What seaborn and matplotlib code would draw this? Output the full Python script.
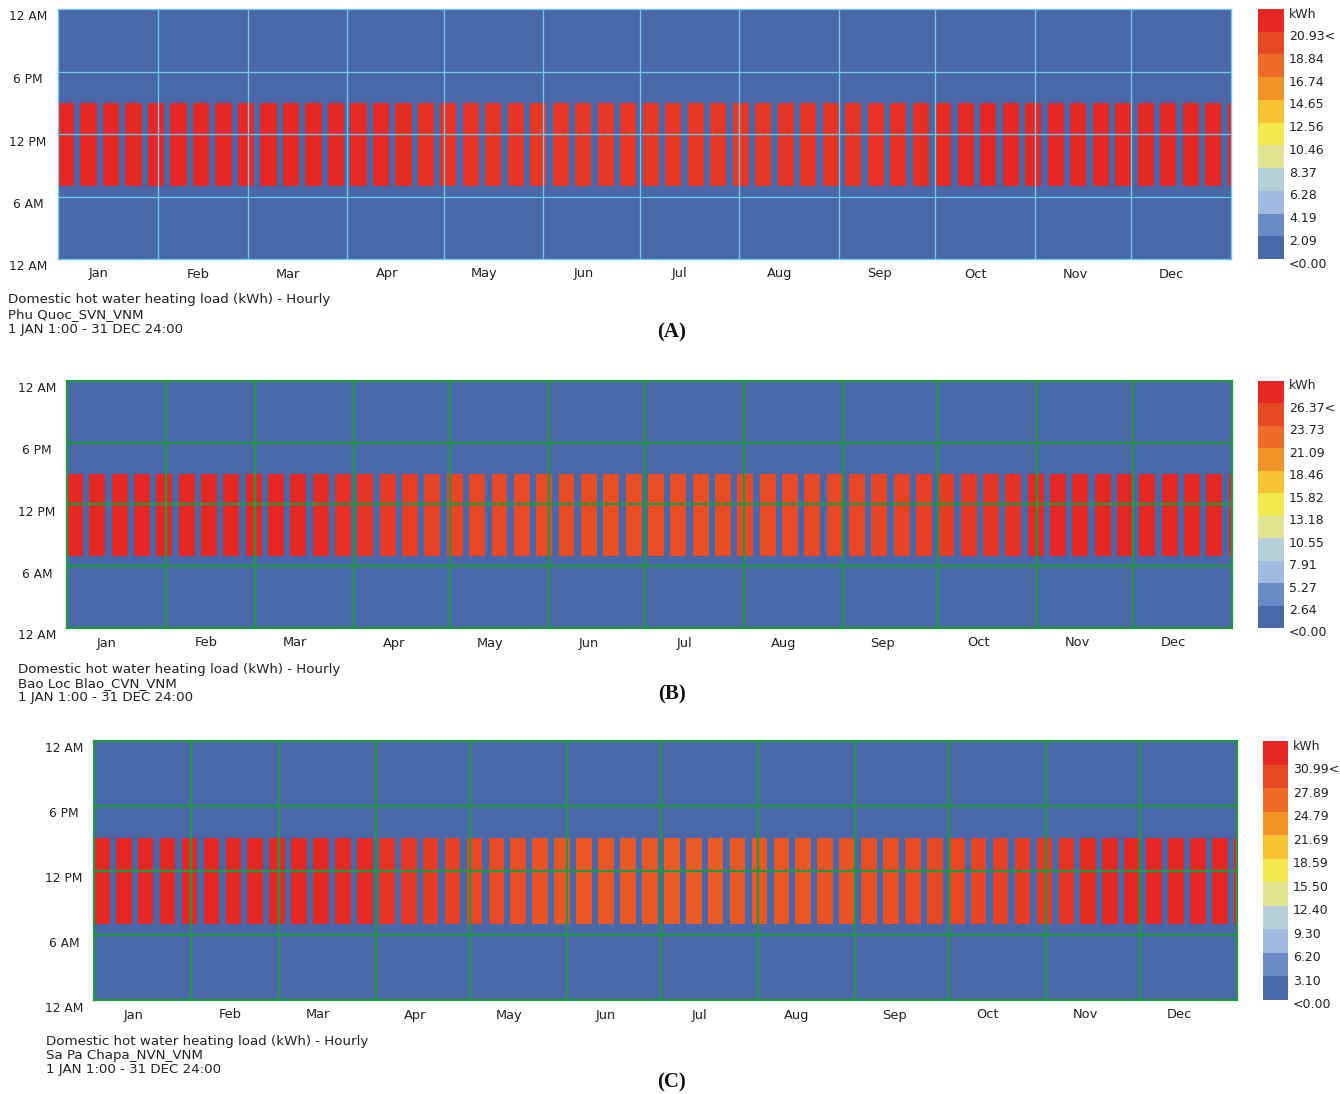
import numpy as np
import pandas as pd
import matplotlib
matplotlib.use("Agg")
import matplotlib.pyplot as plt
import matplotlib.transforms as mtransforms
import seaborn as sns
from matplotlib.colors import ListedColormap, BoundaryNorm, LinearSegmentedColormap
from matplotlib.colorbar import ColorbarBase

sns.set_style("white")
plt.rcParams["font.family"] = ["DejaVu Sans"]

# ---------------------------------------------------------------- data
MONTHS = ["Jan", "Feb", "Mar", "Apr", "May", "Jun",
          "Jul", "Aug", "Sep", "Oct", "Nov", "Dec"]
MONTH_DAYS = [31, 28, 31, 30, 31, 30, 31, 31, 30, 31, 30, 31]
HOUR_TICKS = [0, 6, 12, 18, 24]
HOUR_LABELS = ["12 AM", "6 AM", "12 PM", "6 PM", "12 AM"]
WORK_HOURS = [7, 8, 9, 10, 11, 12, 13, 14]     # occupied hours (row index)
WORK_WEEKDAYS = [0, 1, 2, 3, 4]                # 1 Jan is the first working day

# weekly hot-water heating load on occupied hours (kWh), weeks 1..53
LOAD_A = [23.0, 23.0, 22.9, 22.9, 22.8,
          22.8, 22.7, 22.7, 22.6,
          22.5, 22.4, 22.3, 22.1,
          21.9, 21.8, 21.6, 21.5,
          21.4, 21.3, 21.2, 21.1, 21.0,
          21.0, 20.9, 20.9, 20.9,
          20.9, 20.9, 20.9, 21.0,
          21.0, 21.0, 21.1, 21.1, 21.2,
          21.3, 21.4, 21.5, 21.6,
          21.7, 21.9, 22.0, 22.2,
          22.3, 22.5, 22.6, 22.7, 22.8,
          22.9, 22.9, 23.0, 23.0, 23.0]
LOAD_B = [29.0, 29.0, 28.9, 28.9, 28.8,
          28.7, 28.6, 28.4, 28.2,
          28.0, 27.7, 27.4, 27.0,
          26.6, 26.2, 25.9, 25.6,
          25.4, 25.2, 25.0, 24.9, 24.8,
          24.7, 24.7, 24.6, 24.6,
          24.6, 24.6, 24.6, 24.7,
          24.7, 24.8, 24.9, 25.0, 25.1,
          25.2, 25.4, 25.6, 25.8,
          26.0, 26.3, 26.6, 27.0,
          27.4, 27.8, 28.1, 28.4, 28.6,
          28.8, 28.9, 29.0, 29.0, 29.0]
LOAD_C = [34.1, 34.0, 34.0, 33.9, 33.8,
          33.7, 33.5, 33.3, 33.0,
          32.8, 32.6, 32.4, 32.1,
          31.6, 31.0, 30.5, 30.1,
          29.6, 29.2, 28.9, 28.6, 28.4,
          28.2, 28.1, 28.0, 27.9,
          27.8, 27.8, 27.8, 27.9,
          28.0, 28.1, 28.2, 28.4, 28.6,
          28.8, 29.0, 29.2, 29.4,
          29.6, 29.9, 30.2, 30.6,
          31.0, 31.5, 32.0, 32.5, 33.0,
          33.4, 33.7, 33.9, 34.0, 34.1]

SCALE_A = [0.00, 2.09, 4.19, 6.28, 8.37, 10.46, 12.56, 14.65, 16.74, 18.84, 20.93, 23.02]
SCALE_B = [0.00, 2.64, 5.27, 7.91, 10.55, 13.18, 15.82, 18.46, 21.09, 23.73, 26.37, 29.00]
SCALE_C = [0.00, 3.10, 6.20, 9.30, 12.40, 15.50, 18.59, 21.69, 24.79, 27.89, 30.99, 34.09]

LEGEND_A = ["<0.00", "2.09", "4.19", "6.28", "8.37", "10.46", "12.56",
            "14.65", "16.74", "18.84", "20.93<", "kWh"]
LEGEND_B = ["<0.00", "2.64", "5.27", "7.91", "10.55", "13.18", "15.82",
            "18.46", "21.09", "23.73", "26.37<", "kWh"]
LEGEND_C = ["<0.00", "3.10", "6.20", "9.30", "12.40", "15.50", "18.59",
            "21.69", "24.79", "27.89", "30.99<", "kWh"]

SITES = ["Phu Quoc_SVN_VNM", "Bao Loc Blao_CVN_VNM", "Sa Pa Chapa_NVN_VNM"]
TITLE = "Domestic hot water heating load (kWh) - Hourly"
PERIOD = "1 JAN 1:00 - 31 DEC 24:00"
PANEL_TAGS = ["(A)", "(B)", "(C)"]

BAND_COLORS = ["#4a68a9", "#6a89c5", "#a1b9df", "#b7cfd9", "#e0e38f", "#f3e84f",
               "#f6c432", "#f19427", "#ec6b26", "#e84925", "#e52823"]

# ---------------------------------------------------------------- layout
W, H = 1340, 1094
fig = plt.figure(figsize=(W / 100, H / 100), dpi=100)
TXT = "#222222"


def px_axes(left, top, right, bottom):
    return fig.add_axes([left / W, 1 - bottom / H, (right - left) / W, (bottom - top) / H])


def hourly_grid(load):
    n_days = sum(MONTH_DAYS)
    grid = np.zeros((24, n_days))
    for d in range(n_days):
        if d % 7 in WORK_WEEKDAYS:
            grid[WORK_HOURS, d] = load[d // 7]
    # top row = last hour of the day
    return pd.DataFrame(grid[::-1])


centres = [(i + 0.5) / len(BAND_COLORS) for i in range(len(BAND_COLORS))]
nodes = [(0.0, BAND_COLORS[0])] + list(zip(centres, BAND_COLORS)) + [(1.0, BAND_COLORS[-1])]
smooth_cmap = LinearSegmentedColormap.from_list("load", nodes)
band_cmap = ListedColormap(BAND_COLORS)

panels = [
    dict(load=LOAD_A, scale=SCALE_A, legend=LEGEND_A, box=(58, 9, 1231, 259),
         cbar=(1258, 9, 1284, 259), grid="#6cc8e4", lw=1.0, text_x=8, tag_y=332),
    dict(load=LOAD_B, scale=SCALE_B, legend=LEGEND_B, box=(67, 381, 1232, 628),
         cbar=(1258, 381, 1284, 628), grid="#1f9840", lw=1.6, text_x=18, tag_y=694),
    dict(load=LOAD_C, scale=SCALE_C, legend=LEGEND_C, box=(94, 741, 1237, 1000),
         cbar=(1263, 741, 1288, 1000), grid="#1f9840", lw=1.6, text_x=46, tag_y=1082),
]

month_starts = np.concatenate([[0], np.cumsum(MONTH_DAYS)])

for p, site, tag in zip(panels, SITES, PANEL_TAGS):
    left, top, right, bottom = p["box"]
    ax = px_axes(left, top, right, bottom)
    sns.heatmap(hourly_grid(p["load"]), ax=ax, cmap=smooth_cmap, vmin=0,
                vmax=p["scale"][-1], cbar=False, xticklabels=False,
                yticklabels=False, linewidths=0)
    ax.set_xlim(0, month_starts[-1])
    ax.set_ylim(24, 0)
    for x in month_starts[1:-1]:
        ax.axvline(x, color=p["grid"], lw=p["lw"])
    for h in HOUR_TICKS[1:-1]:
        ax.axhline(24 - h, color=p["grid"], lw=p["lw"])
    for s in ax.spines.values():
        s.set_visible(True)
        s.set_color(p["grid"])
        s.set_linewidth(p["lw"])
    ax.set_xticks([])
    ax.set_yticks([])
    ax.set_xlabel("")
    ax.set_ylabel("")

    # hour labels, slightly below their grid line
    ylab = mtransforms.blended_transform_factory(ax.transAxes, ax.transData) + \
        mtransforms.ScaledTranslation(0, -8 / 100, fig.dpi_scale_trans)
    for h, lab in zip(HOUR_TICKS, HOUR_LABELS):
        ax.text(-30 / (right - left), 24 - h, lab, transform=ylab, ha="center",
                va="center", fontsize=8.8, color=TXT, clip_on=False)

    # month labels
    xlab = mtransforms.blended_transform_factory(ax.transData, ax.transAxes)
    for m, start in zip(MONTHS, month_starts[:-1]):
        ax.text(start + 12.5, -15 / (bottom - top), m, transform=xlab, ha="center",
                va="center", fontsize=9.4, color=TXT, clip_on=False)

    # legend bar
    cl, ct, cr, cb = p["cbar"]
    cax = px_axes(cl, ct, cr, cb)
    cbar = ColorbarBase(cax, cmap=band_cmap, norm=BoundaryNorm(p["scale"], band_cmap.N),
                        orientation="vertical")
    cbar.set_ticks([])
    cbar.minorticks_off()
    cax.tick_params(which="both", length=0, labelright=False, labelleft=False)
    cbar.outline.set_visible(False)
    for val, lab in zip(p["scale"], p["legend"]):
        frac = (val - p["scale"][0]) / (p["scale"][-1] - p["scale"][0])
        fig.text((cr + 5) / W, (1 - (cb - frac * (cb - ct)) / H) - 5 / H, lab,
                 ha="left", va="center", fontsize=9.0, color=TXT)

    # caption block
    for i, line in enumerate([TITLE, site, PERIOD]):
        fig.text(p["text_x"] / W, 1 - (bottom + 44.5 + i * 14.5) / H, line,
                 ha="left", va="baseline", fontsize=9.6, color=TXT)
    fig.text(672 / W, 1 - p["tag_y"] / H, tag, ha="center", va="center",
             fontsize=15, fontweight="bold", family="Liberation Serif", color="#111111")

fig.savefig("out.png", dpi=100, facecolor="white")
